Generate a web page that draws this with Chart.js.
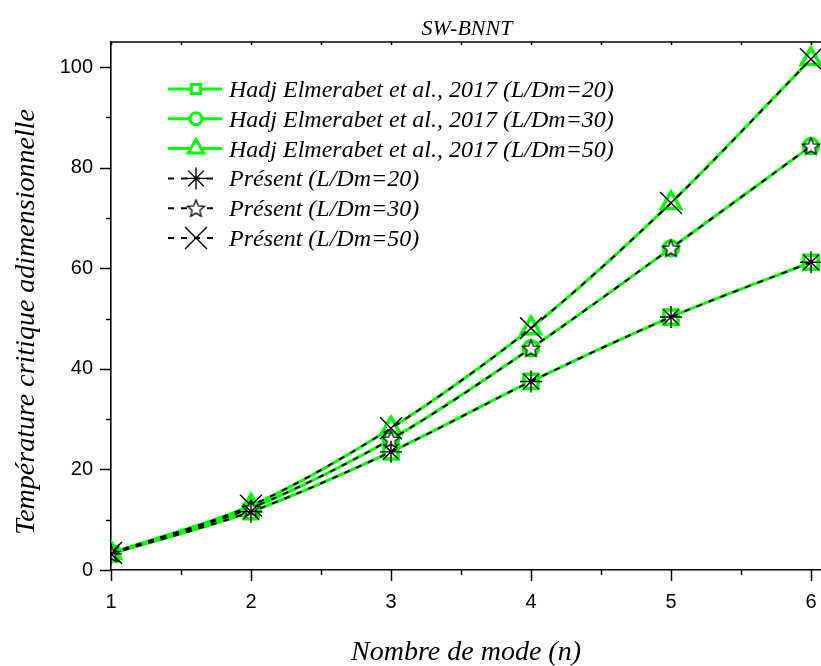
<!DOCTYPE html>
<html><head><meta charset="utf-8">
<script src="https://cdn.jsdelivr.net/npm/chart.js@4.4.0/dist/chart.umd.min.js"></script>
<style>html,body{margin:0;padding:0;background:#fff}#wrap{width:821px;height:666px;position:relative}</style>
</head><body><div id="wrap"><canvas id="c" width="821" height="666"></canvas></div>
<script>
// ---- data ----
const modes = [1, 2, 3, 4, 5, 6];
const hadj20 = [3.2, 11.6, 23.5, 37.5, 50.3, 61.2];
const hadj30 = [3.3, 12.3, 26.0, 44.1, 64.0, 84.3];
const hadj50 = [3.4, 12.8, 28.2, 48.1, 73.0, 101.6];
const present20 = [3.2, 11.6, 23.5, 37.5, 50.3, 61.2];
const present30 = [3.3, 12.3, 26.0, 44.1, 64.0, 84.3];
const present50 = [3.4, 12.8, 28.2, 48.1, 73.0, 101.6];
const xTicks = [1, 2, 3, 4, 5, 6];
const yTicks = [0, 20, 40, 60, 80, 100];
const labels = [
  'Hadj Elmerabet et al., 2017 (L/Dm=20)',
  'Hadj Elmerabet et al., 2017 (L/Dm=30)',
  'Hadj Elmerabet et al., 2017 (L/Dm=50)',
  'Présent (L/Dm=20)',
  'Présent (L/Dm=30)',
  'Présent (L/Dm=50)'
];
const chartTitle = 'SW-BNNT';
const xTitle = 'Nombre de mode (n)';
const yTitle = 'Température critique adimensionnelle';

// ---- styles ----
const GREEN = '#00ff00';
function makeStar(r, lw) {
  const s = Math.ceil(2 * r + lw * 2 + 2);
  const c = document.createElement('canvas');
  c.width = c.height = s;
  const g = c.getContext('2d');
  g.beginPath();
  for (let k = 0; k < 10; k++) {
    const a = -Math.PI / 2 + k * Math.PI / 5;
    const rr = (k % 2) ? r * 0.45 : r;
    const px = s / 2 + rr * Math.cos(a), py = s / 2 + rr * Math.sin(a) + 0.8;
    if (k === 0) g.moveTo(px, py); else g.lineTo(px, py);
  }
  g.closePath();
  g.fillStyle = '#fff'; g.fill();
  g.strokeStyle = '#000'; g.lineWidth = lw; g.lineJoin = 'miter'; g.stroke();
  return c;
}
const starImg = makeStar(9, 1.3);

const pts = arr => modes.map((m, i) => ({ x: m, y: arr[i] }));
function greenDs(label, arr, style, r) {
  return { label, data: pts(arr), borderColor: GREEN, borderWidth: 3, tension: 0.3,
    pointStyle: style, pointRadius: r, pointBorderWidth: 3.5, pointBorderColor: GREEN,
    pointBackgroundColor: '#ffffff', order: 2, fill: false };
}
function blackDs(label, arr, style, r, bw) {
  return { label, data: pts(arr), borderColor: '#000', borderWidth: 2, borderDash: [6, 7], tension: 0.3,
    pointStyle: style, pointRadius: r, pointBorderWidth: bw, pointBorderColor: '#000',
    pointBackgroundColor: '#ffffff', order: 1, fill: false };
}
const datasets = [
  greenDs(labels[0], hadj20, 'rect', 10),
  greenDs(labels[1], hadj30, 'circle', 7.5),
  greenDs(labels[2], hadj50, 'triangle', 11),
  blackDs(labels[3], present20, 'star', 11, 1.4),
  blackDs(labels[4], present30, starImg, 9, 1.3),
  blackDs(labels[5], present50, 'crossRot', 15.5, 1.4)
];
const legendStyles = [
  { pointRadius: 6.5, pointBorderWidth: 3 },
  { pointRadius: 6, pointBorderWidth: 3 },
  { pointRadius: 9, pointBorderWidth: 3 },
  { pointRadius: 11, pointBorderWidth: 1.4 },
  { pointRadius: 9, pointBorderWidth: 1.3 },
  { pointRadius: 15.5, pointBorderWidth: 1.4 }
];

const SERIF = '"Liberation Serif", "Times New Roman", serif';
const SANS = '"Liberation Sans", Arial, sans-serif';

const decor = {
  id: 'decor',
  afterDraw(chart) {
    const ctx = chart.ctx, ca = chart.chartArea, xs = chart.scales.x, ys = chart.scales.y;
    ctx.save();
    ctx.strokeStyle = '#000'; ctx.lineWidth = 1.6;
    // top frame
    ctx.beginPath(); ctx.moveTo(ca.left, ca.top); ctx.lineTo(ca.right, ca.top); ctx.stroke();
    ctx.lineWidth = 1.5;
    // x ticks
    for (let v = 1; v <= 6.01; v += 0.5) {
      const px = Math.round(xs.getPixelForValue(v)) + 0.5;
      const major = Math.abs(v - Math.round(v)) < 1e-6;
      ctx.beginPath(); ctx.moveTo(px, ca.bottom); ctx.lineTo(px, ca.bottom + (major ? 11 : 5)); ctx.stroke();
      ctx.beginPath(); ctx.moveTo(px, ca.top); ctx.lineTo(px, ca.top + 3); ctx.stroke();
    }
    // y ticks
    for (let v = 0; v <= 100.01; v += 10) {
      const py = Math.round(ys.getPixelForValue(v)) + 0.5;
      const major = (Math.round(v) % 20) === 0;
      ctx.beginPath(); ctx.moveTo(ca.left, py); ctx.lineTo(ca.left - (major ? 11 : 5), py); ctx.stroke();
    }
    // titles
    ctx.fillStyle = '#000';
    ctx.textAlign = 'center'; ctx.textBaseline = 'alphabetic';
    ctx.font = 'italic 22px ' + SERIF;
    ctx.fillText(chartTitle, 467, 35);
    ctx.font = 'italic 28px ' + SERIF;
    ctx.fillText(xTitle, 466, 660);
    ctx.save();
    ctx.translate(34, 322); ctx.rotate(-Math.PI / 2);
    ctx.fillText(yTitle, 0, 0);
    ctx.restore();
    // legend
    chart.data.datasets.forEach((ds, i) => {
      const y = 89 + i * 29.8;
      ctx.save();
      ctx.strokeStyle = ds.borderColor; ctx.lineWidth = ds.borderWidth;
      ctx.setLineDash(ds.borderDash || []);
      ctx.beginPath(); ctx.moveTo(168, y); ctx.lineTo(ds.borderDash ? 216 : 222, y); ctx.stroke();
      ctx.setLineDash([]);
      ctx.fillStyle = ds.pointBackgroundColor; ctx.strokeStyle = ds.pointBorderColor;
      ctx.lineWidth = legendStyles[i].pointBorderWidth;
      Chart.helpers.drawPoint(ctx, { pointStyle: ds.pointStyle, radius: legendStyles[i].pointRadius,
        borderWidth: legendStyles[i].pointBorderWidth, rotation: 0 }, 196, y);
      ctx.restore();
      ctx.fillStyle = '#000'; ctx.textAlign = 'left';
      ctx.font = 'italic 24px ' + SERIF;
      ctx.fillText(ds.label, 229, y + 8);
    });
    ctx.restore();
  }
};

new Chart(document.getElementById('c'), {
  type: 'line',
  data: { datasets },
  options: {
    responsive: false, devicePixelRatio: 1, animation: false,
    layout: { autoPadding: false, padding: { top: 42, right: 0, left: 0, bottom: 0 } },
    plugins: { legend: { display: false }, tooltip: { enabled: false }, title: { display: false } },
    scales: {
      x: {
        type: 'linear', min: 1, max: 1 + 710 / 140,
        afterBuildTicks: s => { s.ticks = xTicks.map(v => ({ value: v })); },
        afterFit: s => { s.height = 96; s.paddingRight = 0; s.paddingLeft = 0; },
        grid: { display: false, drawTicks: false },
        border: { display: true, color: '#000', width: 1.6 },
        ticks: { color: '#000', font: { family: SANS, size: 20 }, padding: 20, maxRotation: 0 }
      },
      y: {
        type: 'linear', min: 0, max: 105,
        afterBuildTicks: s => { s.ticks = yTicks.map(v => ({ value: v })); },
        afterFit: s => { s.width = 111; s.paddingTop = 0; s.paddingBottom = 0; },
        grid: { display: false, drawTicks: false },
        border: { display: true, color: '#000', width: 1.6 },
        ticks: { color: '#000', font: { family: SANS, size: 20 }, padding: 18 }
      }
    }
  },
  plugins: [decor]
});
</script>
</body></html>
